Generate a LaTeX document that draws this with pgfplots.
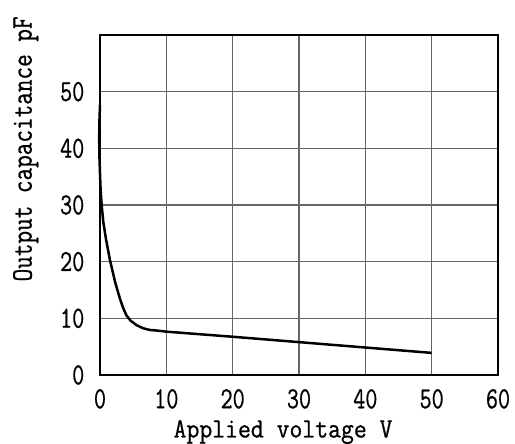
\documentclass[border=0pt]{standalone}
\usepackage{fontspec}
\usepackage{graphicx}
\usepackage{pgfplots}
\pgfplotsset{compat=1.18}
\newfontfamily\rf{Latin Modern Mono}[FakeBold=0.8]
\newcommand\vt[1]{\scalebox{1}[1.3]{#1}}
\newcommand\vx[1]{\scalebox{1}[1.12]{#1}}
\newcommand\vy[1]{\scalebox{1}[1.22]{#1}}
\begin{document}
\begin{tikzpicture}
\path[use as bounding box] (-100pt,-69pt) rectangle (415pt,375pt);
\begin{axis}[
  scale only axis,
  width=398pt, height=340pt,
  at={(0,0)}, anchor=south west,
  xmin=0, xmax=60, ymin=0, ymax=60,
  xtick={0,10,...,60}, ytick={0,10,...,60},
  xticklabels={\vt{0},\vt{10},\vt{20},\vt{30},\vt{40},\vt{50},\vt{60}},
  yticklabels={\vt{0},\vt{10},\vt{20},\vt{30},\vt{40},\vt{50},{}},
  major tick length=0pt,
  grid=major,
  major grid style={line width=1.1pt, draw=black!60},
  axis line style={line width=1.3pt, draw=black},
  tick label style={font=\fontsize{23.5}{24}\selectfont\rf, inner sep=0.5pt},
  yticklabel style={xshift=-15pt},
  xticklabel style={yshift=-13.5pt},
  xlabel={\vx{Applied voltage V}},
  ylabel={\vy{Output capacitance pF}},
  xlabel style={font=\fontsize{25}{25}\selectfont\rf, inner sep=0.5pt,
    at={(axis description cs:0.46,-0.1838)}, anchor=base},
  ylabel style={font=\fontsize{24.5}{25}\selectfont\rf, inner sep=1pt,
    at={(axis description cs:-0.1716,0.665)}, anchor=base},
  clip=false,
]
\addplot[black, line width=2.5pt, line join=round] coordinates {
(0,47.6) (-0.08,45) (-0.12,42) (-0.1,39) (0,35.5) (0.1,32.5) (0.25,30)
(0.5,27) (0.9,24) (1.5,20.3) (2.3,16.3) (3.0,13.5) (3.5,11.8) (4.0,10.5)
(4.6,9.6) (5.5,8.8) (6.5,8.25) (7.5,7.95) (8.5,7.85) (10,7.65) (20,6.75)
(30,5.8) (40,4.85) (50,3.9)
};
\end{axis}
\end{tikzpicture}
\end{document}
